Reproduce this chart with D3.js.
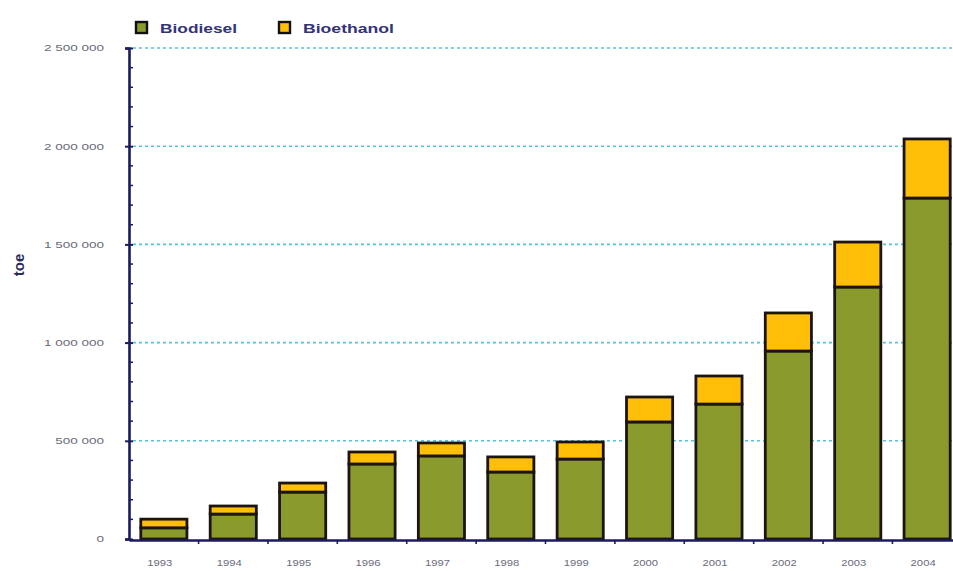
<!DOCTYPE html>
<html><head><meta charset="utf-8">
<script src="https://cdn.jsdelivr.net/npm/d3@7"></script>
<style>
html,body{margin:0;padding:0;background:#fff;}
svg{display:block;font-family:"Liberation Sans",Arial,sans-serif;}
</style></head>
<body>
<svg id="chart" width="953" height="571"></svg>
<script>
const years = ["1993","1994","1995","1996","1997","1998","1999","2000","2001","2002","2003","2004"];
const biodiesel = [57000,127000,239000,382000,423000,341000,407000,596000,687000,957000,1283000,1736000];
const bioethanol = [44000,41000,46000,61000,66000,77000,87000,127000,143000,194000,229000,301000];
const seriesNames = ["Biodiesel","Bioethanol"];
const yTicks = [0,500000,1000000,1500000,2000000,2500000];
const yTickLabels = ["0","500 000","1 000 000","1 500 000","2 000 000","2 500 000"];

(function(){
const svg = d3.select("#chart");
const colors = {Biodiesel:"#8a9a2c", Bioethanol:"#ffbf08"};
const mLeft = 129, mRight = 962, mTop = 48, mBottom = 539;

const x = d3.scaleBand().domain(years).range([mLeft, mRight]).paddingInner(0.335).paddingOuter(0.17);
const y = d3.scaleLinear().domain([0,2500000]).range([mBottom, mTop]);

function stretch(sel, k){
  sel.each(function(){
    const len = this.getComputedTextLength();
    d3.select(this).attr("textLength", len*k).attr("lengthAdjust","spacingAndGlyphs");
  });
}

// gridlines
svg.append("g").selectAll("line").data(yTicks.slice(1)).join("line")
  .attr("x1", mLeft+4).attr("x2", 953)
  .attr("y1", d=>y(d)).attr("y2", d=>y(d))
  .attr("stroke","#55c4dc").attr("stroke-width",1.6).attr("stroke-dasharray","3,3");

// stacked data
const rows = years.map((yr,i)=>({year:yr, Biodiesel:biodiesel[i], Bioethanol:bioethanol[i]}));
const stack = d3.stack().keys(seriesNames)(rows);

svg.append("g").selectAll("g").data(stack).join("g")
  .attr("fill", d=>colors[d.key])
  .selectAll("rect").data(d=>d).join("rect")
  .attr("x", d=>x(d.data.year))
  .attr("width", x.bandwidth())
  .attr("y", d=>y(d[1]))
  .attr("height", d=>y(d[0])-y(d[1]))
  .attr("stroke","#1c1410").attr("stroke-width",2.8);

// y axis
const yAxis = d3.axisLeft(y).tickValues(yTicks).tickFormat((d,i)=>yTickLabels[i]).tickSize(4).tickPadding(21);
const gy = svg.append("g").attr("transform",`translate(${mLeft},0)`).call(yAxis);
gy.select(".domain").attr("stroke","#1b1b5e").attr("stroke-width",2.6);
gy.selectAll(".tick line").attr("stroke","#1b1b5e").attr("stroke-width",2).attr("x1",4);
gy.selectAll(".tick text").attr("fill","#6a6a7a").attr("font-size",9).call(stretch,1.5);
// minor ticks
const minor = d3.range(100000,2500000,100000).filter(v=>v%500000!==0);
svg.append("g").selectAll("line").data(minor).join("line")
  .attr("x1",mLeft).attr("x2",mLeft+4).attr("y1",d=>y(d)).attr("y2",d=>y(d))
  .attr("stroke","#1b1b5e").attr("stroke-width",1.5);

// x axis
const gx = svg.append("g").attr("transform",`translate(0,${mBottom+1})`)
  .call(d3.axisBottom(x).tickSize(0).tickPadding(20));
gx.select(".domain").attr("stroke","#1b1b5e").attr("stroke-width",2.4);
gx.selectAll(".tick text").attr("fill","#6a6a7a").attr("font-size",9).attr("dx",-4).call(stretch,1.25);
// x ticks at category boundaries
const step = x.step();
svg.append("g").selectAll("line").data(years.slice(1)).join("line")
  .attr("x1",d=>x(d)-(step-x.bandwidth())/2).attr("x2",d=>x(d)-(step-x.bandwidth())/2)
  .attr("y1",mBottom+1).attr("y2",mBottom+5)
  .attr("stroke","#1b1b5e").attr("stroke-width",1.6);

// y title
svg.append("text").attr("transform","translate(24,265) rotate(-90)")
  .attr("text-anchor","middle").attr("font-size",15).attr("font-weight","bold")
  .attr("fill","#2b2b5a").text("toe");

// legend
const legendX = [136, 279];
const legendW = [77, 91];
const lg = svg.append("g").selectAll("g").data(seriesNames).join("g")
  .attr("transform",(d,i)=>`translate(${legendX[i]},22)`);
lg.append("rect").attr("width",11).attr("height",11).attr("fill",d=>colors[d])
  .attr("stroke","#111").attr("stroke-width",2.4);
lg.append("text").attr("x",24).attr("y",10.5).attr("font-size",13).attr("font-weight","bold")
  .attr("fill","#33337a").attr("textLength",(d,i)=>legendW[i]).attr("lengthAdjust","spacingAndGlyphs").text(d=>d);
})();
</script>
</body></html>
